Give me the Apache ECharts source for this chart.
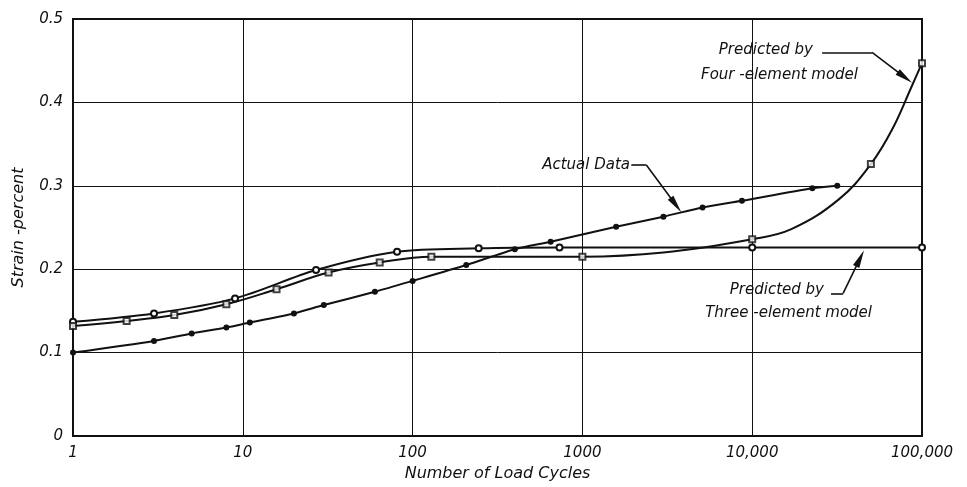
<!DOCTYPE html>
<html><head><meta charset="utf-8">
<script src="https://cdn.jsdelivr.net/npm/echarts@6/dist/echarts.min.js"></script>
<style>html,body{margin:0;padding:0;background:#fff}#c{width:967px;height:487px}</style>
</head><body><div id="c"></div>
<script>
// ---- data ----
const xTickValues = [1, 10, 100, 1000, 10000, 100000];
const xTickLabels = ['1', '10', '100', '1000', '10,000', '100,000'];
const yTickLabels = ['0', '0.1', '0.2', '0.3', '0.4', '0.5'];

// Actual data (filled dots)
const actualX = [1, 3, 5, 8, 11, 20, 30, 60, 100, 207, 400, 650, 1580, 3000, 5100, 8700, 22600, 31700];
const actualY = [0.100, 0.114, 0.123, 0.130, 0.136, 0.147, 0.157, 0.173, 0.186, 0.205, 0.224, 0.233, 0.251, 0.263, 0.274, 0.282, 0.297, 0.300];

// Three-element model: plotted points
const threeX = [1, 3, 9, 27, 81, 245, 733, 10000, 100000];
const threeY = [0.137, 0.147, 0.165, 0.199, 0.221, 0.225, 0.226, 0.226, 0.226];

// Four-element model: plotted points
const fourX = [1, 2.07, 3.95, 8, 15.8, 32, 64, 129, 1000, 10000, 50000, 100000];
const fourY = [0.132, 0.138, 0.145, 0.158, 0.176, 0.196, 0.208, 0.215, 0.215, 0.236, 0.326, 0.447];
// Four-element model: further points (no markers)
const fourCurveX = [3000, 17000, 32500, 66900, 87300];
const fourCurveY = [0.220, 0.248, 0.284, 0.368, 0.420];

// Annotation leaders (data coordinates): start, corner, arrow end
const leaderFour = [[25800, 0.460], [50800, 0.460], [79300, 0.430]];
const leaderActual = [[1942, 0.325], [2380, 0.325], [3554, 0.277]];
const leaderThree = [[29100, 0.171], [34300, 0.171], [43200, 0.213]];

// ---- build ----
const zip = (xs, ys) => xs.map((x, i) => [x, ys[i]]);
const byX = (a, b) => a[0] - b[0];
const fourCurve = zip(fourX, fourY).concat(zip(fourCurveX, fourCurveY)).sort(byX);

const INK = '#111';
const FONT = '"DejaVu Sans", sans-serif';

function leader(pts) {
  return [
    [{ coord: pts[0], symbol: 'none' }, { coord: pts[1], symbol: 'none' }],
    [{ coord: pts[1], symbol: 'none' }, { coord: pts[2], symbol: 'triangle', symbolSize: [7, 18] }]
  ];
}
function mk(pts) {
  return {
    silent: true, animation: false, symbol: ['none', 'none'],
    label: { show: false },
    lineStyle: { color: INK, width: 1.6, type: 'solid' },
    emphasis: { disabled: true },
    data: leader(pts)
  };
}

const chart = echarts.init(document.getElementById('c'), null, { renderer: 'canvas' });
chart.setOption({
  animation: false,
  backgroundColor: '#fff',
  grid: { left: 73, right: 45, top: 19, bottom: 51, show: true, borderColor: INK, borderWidth: 2, backgroundColor: 'transparent' },
  xAxis: {
    type: 'log', logBase: 10, min: 1, max: 100000,
    name: 'Number of Load Cycles', nameLocation: 'middle', nameGap: 30,
    nameTextStyle: { fontFamily: FONT, fontStyle: 'italic', fontSize: 16, color: INK },
    axisLine: { show: true, lineStyle: { color: INK, width: 2 } },
    axisTick: { show: false },
    minorTick: { show: false },
    splitLine: { show: true, lineStyle: { color: INK, width: 1 } },
    axisLabel: {
      margin: 10, fontFamily: FONT, fontStyle: 'italic', fontSize: 15, color: INK,
      formatter: v => {
        const i = xTickValues.findIndex(t => Math.abs(Math.log10(t) - Math.log10(v)) < 1e-6);
        return i >= 0 ? xTickLabels[i] : '';
      }
    }
  },
  yAxis: {
    type: 'value', min: 0, max: 0.5, interval: 0.1,
    name: 'Strain -percent', nameLocation: 'middle', nameGap: 46,
    nameTextStyle: { fontFamily: FONT, fontStyle: 'italic', fontSize: 16, color: INK },
    axisLine: { show: true, lineStyle: { color: INK, width: 2 } },
    axisTick: { show: false },
    splitLine: { show: true, lineStyle: { color: INK, width: 1 } },
    axisLabel: {
      margin: 10, fontFamily: FONT, fontStyle: 'italic', fontSize: 15, color: INK,
      formatter: v => yTickLabels[Math.round(v * 10)]
    }
  },
  series: [
    {
      name: 'Actual Data', type: 'line', data: zip(actualX, actualY),
      smooth: 0.25,
      symbol: 'circle', symbolSize: 6, showSymbol: true,
      itemStyle: { color: INK },
      lineStyle: { color: INK, width: 2 },
      markLine: mk(leaderActual), z: 3
    },
    {
      name: 'Three-element model', type: 'line', data: zip(threeX, threeY),
      smooth: 0.3,
      symbol: 'emptyCircle', symbolSize: 6, showSymbol: true,
      itemStyle: { color: INK, borderColor: INK, borderWidth: 1.5 },
      lineStyle: { color: INK, width: 2 },
      markLine: mk(leaderThree), z: 3
    },
    {
      name: 'Four-element model curve', type: 'line', data: fourCurve,
      smooth: 0.4, showSymbol: false, symbol: 'none',
      lineStyle: { color: INK, width: 2 },
      markLine: mk(leaderFour), z: 3
    },
    {
      name: 'Four-element model', type: 'scatter', data: zip(fourX, fourY),
      symbol: 'emptyRect', symbolSize: 6,
      itemStyle: { color: INK, borderColor: INK, borderWidth: 1.5 }, z: 4
    }
  ],
  graphic: [
    { type: 'text', x: 813, y: 50, style: { text: 'Predicted by', align: 'right', verticalAlign: 'middle', font: 'italic 15px ' + FONT, fill: INK } },
    { type: 'text', x: 858, y: 75, style: { text: 'Four -element model', align: 'right', verticalAlign: 'middle', font: 'italic 15px ' + FONT, fill: INK } },
    { type: 'text', x: 630, y: 165, style: { text: 'Actual Data', align: 'right', verticalAlign: 'middle', font: 'italic 15px ' + FONT, fill: INK } },
    { type: 'text', x: 824, y: 290, style: { text: 'Predicted by', align: 'right', verticalAlign: 'middle', font: 'italic 15px ' + FONT, fill: INK } },
    { type: 'text', x: 872, y: 313, style: { text: 'Three -element model', align: 'right', verticalAlign: 'middle', font: 'italic 15px ' + FONT, fill: INK } }
  ]
});
</script>
</body></html>
